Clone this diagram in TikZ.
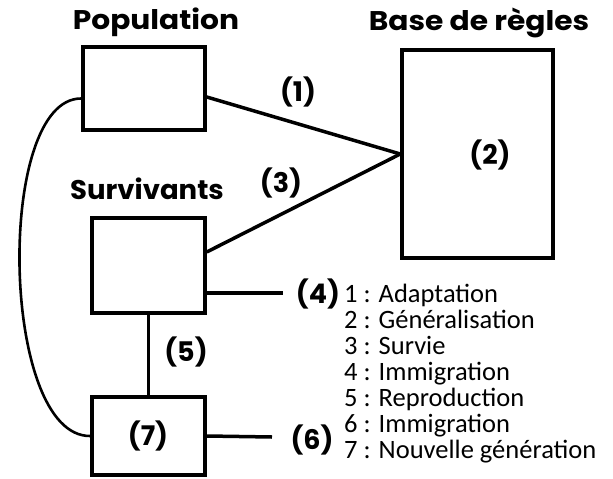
\documentclass[tikz,border=0pt]{standalone}
\usepackage{fontspec}
\newfontfamily\titlefont{Poppins}
\newfontfamily\legfont{Carlito}
\begin{document}
\begin{tikzpicture}[x=1pt,y=1pt,
  box/.style={draw,line width=3.5pt,inner sep=0pt,fill=white},
  conn/.style={line width=3.5pt},
  thin/.style={line width=2.6pt},
  ttl/.style={font=\titlefont\fontsize{27}{30}\selectfont\bfseries,inner sep=0pt,transform shape},
  lab/.style={font=\titlefont\fontsize{27}{30}\selectfont\bfseries,inner sep=0pt},
  leg/.style={font=\legfont\fontsize{26.5}{29}\selectfont,inner sep=0pt,anchor=base west}]
\useasboundingbox (0,0) rectangle (613,-479);
\node[box,minimum width=122,minimum height=83] (pop) at (144,-88.5) {};
\node[box,minimum width=151,minimum height=208] (base) at (477.5,-154) {};
\node[box,minimum width=113,minimum height=95] (surv) at (148.5,-265.5) {};
\node[box,minimum width=113,minimum height=78] (gen) at (148.5,-436) {};
\node[ttl,xscale=1.1] (tpop) at (156,-22) {Population};
\node[ttl,xscale=1.1] (tbase) at (479,-23) {Base de règles};
\node[ttl,xscale=1.02] (tsurv) at (147,-189) {Survivants};
\node[lab] (l2) at (490,-155) {(2)};
\node[lab] (l7) at (148,-436) {(7)};
\node[lab] (l1) at (298,-92) {(1)};
\node[lab] (l3) at (281,-183) {(3)};
\node[lab] (l5) at (186,-352) {(5)};
\node[lab] (l4) at (318,-294) {(4)};
\node[lab] (l6) at (312,-440) {(6)};
\coordinate (e4) at (283,-293);
\coordinate (e6) at (272,-437);
\draw[conn] ([yshift=-8.5]pop.east) -- (base.west);
\draw[conn] ([yshift=13.5]surv.east) -- (base.west);
\draw[conn] ([yshift=-27.5]surv.east) -- (e4);
\draw[conn] (gen.east) -- (e6);
\draw[thin] (surv.south) -- (gen.north);
\draw[thin] ([yshift=-10]pop.west) .. controls (-5,-98) and (0,-437) .. (gen.west);
\node[leg] (g1) at (344,-302) {1 : Adaptation};
\node[leg] (g2) at (344,-328) {2 : Généralisation};
\node[leg] (g3) at (344,-354) {3 : Survie};
\node[leg] (g4) at (344,-380) {4 : Immigration};
\node[leg] (g5) at (344,-406) {5 : Reproduction};
\node[leg] (g6) at (344,-432) {6 : Immigration};
\node[leg] (g7) at (344,-458) {7 : Nouvelle génération};
\end{tikzpicture}
\end{document}
